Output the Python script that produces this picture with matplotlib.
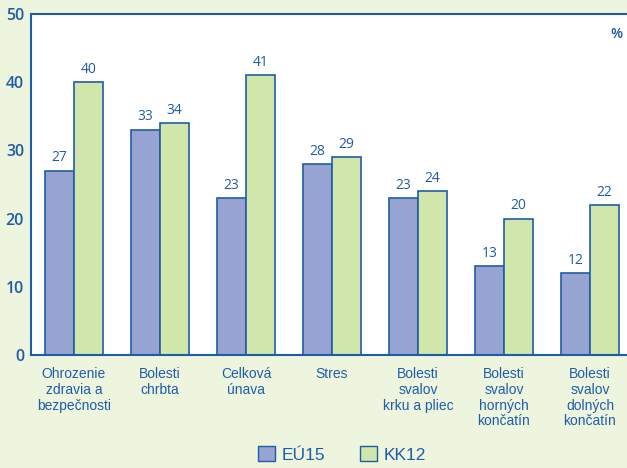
import numpy as np
import matplotlib.pyplot as plt
from matplotlib.patches import Patch

categories = ['Ohrozenie\nzdravia a\nbezpečnosti', 'Bolesti\nchrbta', 'Celková\núnava', 'Stres',
              'Bolesti\nsvalov\nkrku a pliec', 'Bolesti\nsvalov\nhorných\nkončatín',
              'Bolesti\nsvalov\ndolných\nkončatín']
eu15 = [27, 33, 23, 28, 23, 13, 12]
kk12 = [40, 34, 41, 29, 24, 20, 22]

blue = '#1f5ca8'
c_eu = '#97a3d1'
c_kk = '#d1e6ab'
bg = '#eef5de'

fig = plt.figure(figsize=(6.27, 4.68), dpi=100, facecolor=bg)
ax = fig.add_axes([31/627, 1-355/468, 602/627, 341/468])
ax.set_facecolor('white')

x = np.arange(len(categories))
w = 0.34
ax.bar(x - w/2, eu15, w, color=c_eu, edgecolor=blue, linewidth=1.2)
ax.bar(x + w/2, kk12, w, color=c_kk, edgecolor=blue, linewidth=1.2)

for i in range(len(x)):
    ax.text(x[i] - w/2, eu15[i] + 0.8, str(eu15[i]), ha='center', va='bottom',
            color=blue, fontsize=10, family='Open Sans')
    ax.text(x[i] + w/2, kk12[i] + 0.8, str(kk12[i]), ha='center', va='bottom',
            color=blue, fontsize=10, family='Open Sans')

ax.set_xlim(-0.5, 6.5)
ax.set_ylim(0, 50)
ax.set_yticks([0, 10, 20, 30, 40, 50])
ax.set_xticks(x)
ax.set_xticklabels(categories, color=blue, fontsize=10, family='Liberation Sans', linespacing=1.15)
for lab in ax.get_yticklabels():
    lab.set_color(blue)
    lab.set_fontsize(11.5)
    lab.set_fontweight('semibold')
    lab.set_family('Open Sans')
ax.tick_params(axis='both', length=0)
ax.tick_params(axis='x', pad=9)
ax.tick_params(axis='y', pad=5)

for s in ['left', 'bottom', 'top']:
    ax.spines[s].set_color(blue)
    ax.spines[s].set_linewidth(1.5)
ax.spines['right'].set_visible(False)

ax.text(0.973, 0.94, '%', transform=ax.transAxes, color=blue, fontsize=10,
        fontweight='semibold', family='Open Sans', ha='center', va='center')

handles = [Patch(facecolor=c_eu, edgecolor=blue, label='EÚ15'),
           Patch(facecolor=c_kk, edgecolor=blue, label='KK12')]
fig.legend(handles=handles, loc='lower center', bbox_to_anchor=(0.545, -0.022), ncol=2,
           frameon=False, handlelength=1.0, handleheight=1.0, handletextpad=0.35,
           columnspacing=2.0, prop={'family': 'Liberation Sans', 'size': 12.5},
           labelcolor=blue)

fig.savefig('out.png', dpi=100, facecolor=bg)
